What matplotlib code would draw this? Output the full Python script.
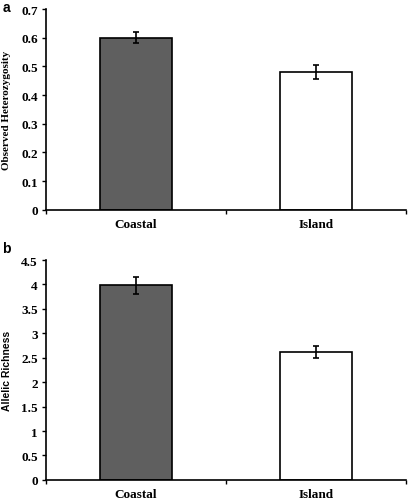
import matplotlib.pyplot as plt

categories = ['Coastal', 'Island']
het_values = [0.60, 0.48]
het_errors = [0.02, 0.025]
rich_values = [3.98, 2.62]
rich_errors = [0.18, 0.13]
bar_colors = ['#5f5f5f', 'white']

serif = ['Liberation Serif', 'DejaVu Serif']
sans = ['Liberation Sans', 'DejaVu Sans']


def draw_panel(ax, values, errors, ylabel, ylabel_font, ylabel_size, ymax, ystep, fmt):
    x = range(len(categories))
    ax.bar(x, values, width=0.4, color=bar_colors, edgecolor='black', linewidth=1.2, zorder=2)
    ax.errorbar(x, values, yerr=errors, fmt='none', ecolor='black', elinewidth=1.2,
                capsize=2.5, capthick=1.2, zorder=3)
    ax.set_xlim(-0.5, len(categories) - 0.5)
    ax.set_ylim(0, ymax)
    ticks = [i * ystep for i in range(int(round(ymax / ystep)) + 1)]
    ax.set_yticks(ticks)
    ax.set_yticklabels([fmt(t) for t in ticks], fontfamily=serif, fontweight='bold', fontsize=9.5)
    ax.set_xticks([-0.5, 0.5, 1.5])
    ax.set_xticklabels([])
    ax.set_xticks(list(x), minor=True)
    ax.set_xticklabels(categories, minor=True, fontfamily=serif, fontweight='bold', fontsize=9.5)
    ax.tick_params(axis='x', which='minor', length=0, pad=6)
    ax.tick_params(axis='x', which='major', length=3, width=1, direction='out')
    ax.tick_params(axis='y', length=3, width=1, direction='out', pad=3)
    ax.set_ylabel(ylabel, fontfamily=ylabel_font, fontweight='bold', fontsize=ylabel_size)
    ax.yaxis.set_label_coords(-0.109, 0.5)
    ax.yaxis.label.set_va('center')
    for side in ['top', 'right']:
        ax.spines[side].set_visible(False)
    for side in ['left', 'bottom']:
        ax.spines[side].set_linewidth(1.2)


fig = plt.figure(figsize=(4.08, 5.02), dpi=100)
ax1 = fig.add_axes([0.113, 0.580, 0.882, 0.400])
ax2 = fig.add_axes([0.113, 0.042, 0.882, 0.438])

draw_panel(ax1, het_values, het_errors, 'Observed Heterozygosity', serif, 8, 0.7, 0.1,
           lambda t: '0' if t == 0 else f'{t:.1f}')
draw_panel(ax2, rich_values, rich_errors, 'Allelic Richness', sans, 7.5, 4.5, 0.5,
           lambda t: f'{t:g}')

fig.text(0.006, 0.998, 'a', fontfamily=sans, fontweight='bold', fontsize=10, va='top')
fig.text(0.006, 0.517, 'b', fontfamily=sans, fontweight='bold', fontsize=10, va='top')

fig.savefig('out.png', dpi=100)
